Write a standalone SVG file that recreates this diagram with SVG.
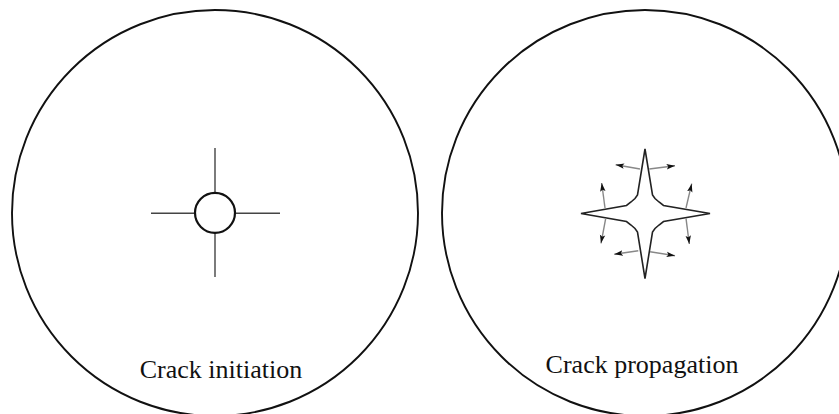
<svg xmlns="http://www.w3.org/2000/svg" width="839" height="414" viewBox="0 0 839 414">
  <style>
    .outer { fill: none; stroke: #111; stroke-width: 1.9; }
    .hole { fill: #fff; stroke: #111; stroke-width: 2.2; }
    .crack { stroke: #444; stroke-width: 1.4; fill: none; }
    .star { fill: #fff; stroke: #222; stroke-width: 1.6; stroke-linejoin: miter; }
    .arrow { stroke: #888; stroke-width: 1.4; fill: none; marker-end: url(#head); }
    .label { font-family: "Liberation Serif", "Times New Roman", serif; font-size: 26px; fill: #111; text-anchor: middle; }
  </style>
  <defs>
    <marker id="head" markerUnits="userSpaceOnUse" markerWidth="9" markerHeight="7" refX="8.5" refY="3.5" orient="auto">
      <path d="M0,0.8 L8.5,3.5 L0,6.2 L1.8,3.5 Z" fill="#111"/>
    </marker>
  </defs>
  <rect width="839" height="414" fill="#fff"/>

  <g id="initiation">
    <circle class="outer" cx="215" cy="213" r="203"/>
    <line class="crack" x1="215" y1="148" x2="215" y2="277"/>
    <line class="crack" x1="151" y1="213.3" x2="280" y2="213.3"/>
    <circle class="hole" cx="215" cy="212.8" r="20"/>
    <text class="label" x="221" y="378">Crack initiation</text>
  </g>

  <g id="propagation">
    <circle class="outer" cx="645" cy="213" r="203"/>
    <path class="star" d="M645,149 L652.5,195 L655,198.5 L659,202 L663.5,205.5 L710,213.5 L663.5,221.5 L659,225 L655,228.5 L652.5,232 L645,278.5 L637.5,232 L635,228.5 L631,225 L626.5,221.5 L581,213.5 L626.5,205.5 L631,202 L635,198.5 L637.5,195 Z"/>
    <text class="label" x="642" y="373">Crack propagation</text>
  </g>

  <g id="connectors">
    <line class="arrow" x1="640" y1="169" x2="615.7" y2="164.7"/>
    <line class="arrow" x1="605" y1="208" x2="601.7" y2="183"/>
    <line class="arrow" x1="649.3" y1="169" x2="675" y2="165.7"/>
    <line class="arrow" x1="686" y1="208" x2="691.7" y2="183.7"/>
    <line class="arrow" x1="605.7" y1="218.3" x2="601" y2="243.3"/>
    <line class="arrow" x1="638.3" y1="250.7" x2="614.3" y2="254.3"/>
    <line class="arrow" x1="686" y1="218.3" x2="689.3" y2="244"/>
    <line class="arrow" x1="650" y1="251.7" x2="675" y2="255.7"/>
  </g>
</svg>
